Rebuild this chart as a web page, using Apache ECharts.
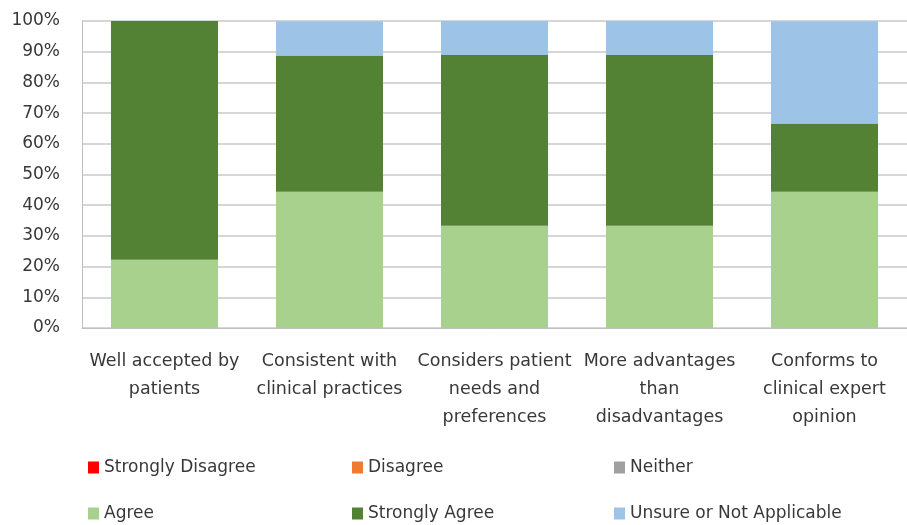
<!DOCTYPE html>
<html>
<head>
<meta charset="utf-8">
<script src="https://cdn.jsdelivr.net/npm/echarts@6/dist/echarts.min.js"></script>
<style>
  html, body { margin: 0; padding: 0; background: #fff; }
  #chart { width: 907px; height: 525px; }
</style>
</head>
<body>
<div id="chart"></div>
<script>
// Survey statements (category axis)
const categories = [
  'Well accepted by\npatients',
  'Consistent with\nclinical practices',
  'Considers patient\nneeds and\npreferences',
  'More advantages\nthan\ndisadvantages',
  'Conforms to\nclinical expert\nopinion'
];

// Share of responses per statement, in percent
const stronglyDisagree = [0, 0, 0, 0, 0];
const disagree         = [0, 0, 0, 0, 0];
const neither          = [0, 0, 0, 0, 0];
const agree            = [22.2, 44.4, 33.3, 33.3, 44.4];
const stronglyAgree    = [77.8, 44.4, 55.6, 55.6, 22.2];
const unsure           = [0, 11.1, 11.1, 11.1, 33.3];

const seriesNames = ['Strongly Disagree', 'Disagree', 'Neither', 'Agree', 'Strongly Agree', 'Unsure or Not Applicable'];
const seriesData  = [stronglyDisagree, disagree, neither, agree, stronglyAgree, unsure];
const seriesColors = ['#FF0000', '#F27A2E', '#A0A0A0', '#A9D18E', '#548235', '#9DC3E6'];

const FONT = '"DejaVu Sans", sans-serif';
const TEXT = '#383838';

// Legend laid out as a 3 x 2 grid
const legendPos = [
  [88, 459], [352, 459], [614, 459],
  [88, 505], [352, 505], [614, 505]
];

const chart = echarts.init(document.getElementById('chart'));
chart.setOption({
  animation: false,
  backgroundColor: '#fff',
  grid: { left: 82, right: -10, top: 21, bottom: 197, containLabel: false },
  legend: seriesNames.map((n, i) => ({
    data: [n],
    left: legendPos[i][0],
    top: legendPos[i][1],
    icon: 'rect',
    itemWidth: 11,
    itemHeight: 12,
    itemGap: 0,
    padding: 0,
    selectedMode: false,
    textStyle: { fontFamily: FONT, fontSize: 17, color: TEXT, padding: [0, 0, 0, 0] }
  })),
  xAxis: {
    type: 'category',
    data: categories,
    axisLine: { show: true, lineStyle: { color: '#BFBFBF', width: 1 } },
    axisTick: { show: false },
    axisLabel: {
      interval: 0,
      margin: 19,
      fontFamily: FONT,
      fontSize: 17.5,
      lineHeight: 28,
      color: TEXT
    }
  },
  yAxis: {
    type: 'value',
    min: 0,
    max: 100,
    interval: 10,
    axisLine: { show: true, lineStyle: { color: '#BFBFBF', width: 1 } },
    axisTick: { show: false },
    splitLine: { show: true, lineStyle: { color: '#C8C8C8', width: 1.5 } },
    axisLabel: {
      formatter: '{value}%',
      margin: 22,
      fontFamily: FONT,
      fontSize: 17,
      color: TEXT
    }
  },
  series: seriesNames.map((n, i) => ({
    name: n,
    type: 'bar',
    stack: 'total',
    data: seriesData[i],
    barWidth: 107,
    itemStyle: { color: seriesColors[i] }
  }))
});
</script>
</body>
</html>
